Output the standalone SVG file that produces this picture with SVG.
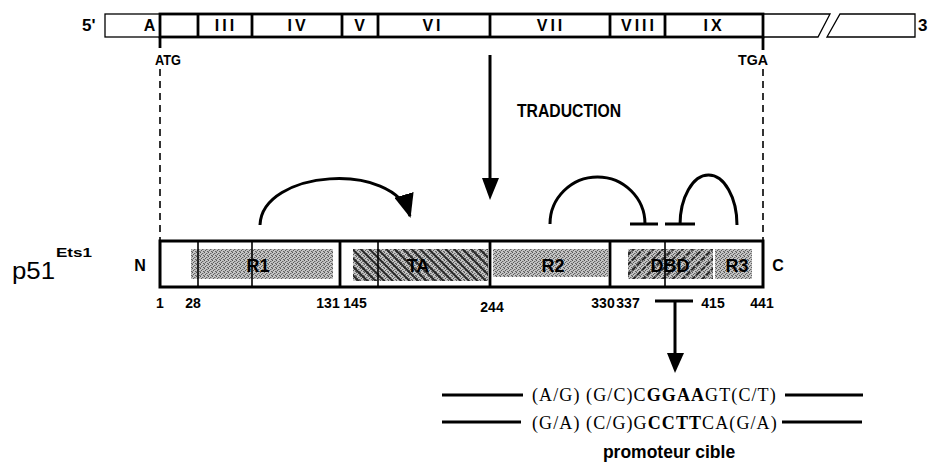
<svg xmlns="http://www.w3.org/2000/svg" width="930" height="467" viewBox="0 0 930 467">
  <style>
    .sans { font-family: "Liberation Sans", Arial, sans-serif; font-weight: bold; fill: #000; }
    .plain { font-weight: normal; }
    .serif { font-family: "Liberation Serif", "Times New Roman", serif; fill: #000; }
    .thin { fill: none; stroke: #000; stroke-width: 1.3; }
    .thick { fill: none; stroke: #000; stroke-width: 2.8; }
    .box { fill: none; stroke: #000; stroke-width: 3; }
    .div-thin { stroke: #000; stroke-width: 1.6; }
    .div-thick { stroke: #000; stroke-width: 2.8; }
    .conn { fill: none; stroke: #000; stroke-width: 3; }
    .bar { stroke: #000; stroke-width: 3; }
    .dash { stroke: #000; stroke-width: 1.6; stroke-dasharray: 7 5; }
    .exon { font-size: 16px; letter-spacing: 3px; text-anchor: middle; }
    .dom { font-size: 18px; text-anchor: middle; }
    .num { font-size: 14px; text-anchor: middle; }
    .seq { font-size: 18px; letter-spacing: 1.1px; }
  </style>
  <defs>
    <!-- grey stipple used for the regulatory domains -->
    <pattern id="stipple" width="4" height="4" patternUnits="userSpaceOnUse">
      <rect width="4" height="4" fill="#c4c4c4"/>
      <rect x="0" y="0" width="1" height="1" fill="#555"/>
      <rect x="2" y="1" width="1" height="1" fill="#666"/>
      <rect x="1" y="2" width="1" height="1" fill="#5a5a5a"/>
      <rect x="3" y="3" width="1" height="1" fill="#606060"/>
      <rect x="3" y="1" width="1" height="1" fill="#9a9a9a"/>
      <rect x="0" y="3" width="1" height="1" fill="#8e8e8e"/>
    </pattern>
    <!-- back-slash hatching (transactivation) -->
    <pattern id="hatchBack" width="6" height="6" patternUnits="userSpaceOnUse" patternTransform="rotate(-45)">
      <line x1="1" y1="0" x2="1" y2="6" stroke="#1a1a1a" stroke-width="1.8"/>
    </pattern>
    <!-- forward-slash hatching (DNA binding) -->
    <pattern id="hatchFwd" width="7" height="7" patternUnits="userSpaceOnUse" patternTransform="rotate(45)">
      <line x1="1" y1="0" x2="1" y2="7" stroke="#1a1a1a" stroke-width="1.8" stroke-dasharray="3.5 1.5"/>
    </pattern>
    <marker id="head" viewBox="0 0 24 20" refX="22" refY="10" markerWidth="24" markerHeight="20" markerUnits="userSpaceOnUse" orient="auto">
      <path d="M0,0 L24,10 L0,20 Z" fill="#000"/>
    </marker>
  </defs>

  <!-- messenger RNA with exons -->
  <g id="mrna">
    <text class="sans" x="82" y="31" font-size="17">5'</text>
    <rect class="thin" x="105" y="14" width="55" height="23"/>
    <rect class="thick" x="160" y="14" width="603" height="23"/>
    <line class="div-thick" x1="198" y1="14" x2="198" y2="37"/>
    <line class="div-thick" x1="252" y1="14" x2="252" y2="37"/>
    <line class="div-thick" x1="342" y1="14" x2="342" y2="37"/>
    <line class="div-thick" x1="378" y1="14" x2="378" y2="37"/>
    <line class="div-thick" x1="490" y1="14" x2="490" y2="37"/>
    <line class="div-thick" x1="610" y1="14" x2="610" y2="37"/>
    <line class="div-thick" x1="665" y1="14" x2="665" y2="37"/>
    <path class="thin" d="M763,14 L830,14 L818,37 L763,37"/>
    <path class="thin" d="M840,14 L915,14 L915,37 L827,37 Z"/>
    <text class="sans" x="918" y="31" font-size="17">3</text>
    <text class="sans exon" x="151" y="31" letter-spacing="0">A</text>
    <text class="sans exon" x="226" y="31">III</text>
    <text class="sans exon" x="298" y="31">IV</text>
    <text class="sans exon" x="361" y="31">V</text>
    <text class="sans exon" x="433" y="31">VI</text>
    <text class="sans exon" x="551" y="31">VII</text>
    <text class="sans exon" x="639" y="31">VIII</text>
    <text class="sans exon" x="714" y="31">IX</text>
    <line class="div-thick" x1="160" y1="37" x2="160" y2="48"/>
    <line class="div-thick" x1="763" y1="37" x2="763" y2="50"/>
    <text class="sans" x="155" y="65" font-size="14" textLength="26" lengthAdjust="spacingAndGlyphs">ATG</text>
    <text class="sans" x="738" y="65" font-size="14" textLength="30" lengthAdjust="spacingAndGlyphs">TGA</text>
    <text class="sans" x="517" y="117" font-size="19" textLength="104" lengthAdjust="spacingAndGlyphs">TRADUCTION</text>
  </g>

  <!-- protein p51 Ets1 -->
  <g id="protein">
    <text class="sans plain" x="12" y="279" font-size="24" textLength="43" lengthAdjust="spacingAndGlyphs">p51</text>
    <text class="sans" x="56" y="257" font-size="13" textLength="36" lengthAdjust="spacingAndGlyphs">Ets1</text>
    <text class="sans" x="140" y="271" font-size="16" text-anchor="middle">N</text>
    <text class="sans" x="778" y="271" font-size="16" text-anchor="middle">C</text>
  </g>

  <g id="domain-R1">
    <rect x="191" y="249" width="142" height="30" fill="url(#stipple)"/>
  </g>
  <g id="domain-TA">
    <rect x="353" y="249" width="135" height="32" fill="url(#stipple)"/>
    <rect x="353" y="249" width="135" height="32" fill="url(#hatchBack)"/>
  </g>
  <g id="domain-R2">
    <rect x="493" y="249" width="115" height="28" fill="url(#stipple)"/>
  </g>
  <g id="domain-DBD">
    <rect x="628" y="249" width="85" height="30" fill="url(#stipple)"/>
    <rect x="628" y="249" width="85" height="30" fill="url(#hatchFwd)"/>
  </g>
  <g id="domain-R3">
    <rect x="715" y="249" width="37" height="30" fill="url(#stipple)"/>
  </g>

  <g id="protein-frame">
    <rect class="box" x="160" y="241" width="603" height="46"/>
    <line class="div-thin" x1="198" y1="241" x2="198" y2="287"/>
    <line class="div-thin" x1="252" y1="241" x2="252" y2="287"/>
    <line class="div-thick" x1="340" y1="241" x2="340" y2="287"/>
    <line class="div-thin" x1="378" y1="241" x2="378" y2="287"/>
    <line class="div-thick" x1="490" y1="241" x2="490" y2="287"/>
    <line class="div-thick" x1="610" y1="241" x2="610" y2="287"/>
    <line class="div-thin" x1="665" y1="241" x2="665" y2="287"/>
    <text class="sans dom" x="258" y="272">R1</text>
    <text class="sans dom" x="418" y="272">TA</text>
    <text class="sans dom" x="553" y="272">R2</text>
    <text class="sans dom" x="670" y="272">DBD</text>
    <text class="sans dom" x="737" y="272">R3</text>
  </g>

  <!-- residue positions -->
  <g id="positions">
    <text class="sans num" x="160" y="308">1</text>
    <text class="sans num" x="193" y="308">28</text>
    <text class="sans num" x="328" y="308">131</text>
    <text class="sans num" x="355" y="308">145</text>
    <text class="sans num" x="492" y="312">244</text>
    <text class="sans num" x="603" y="308">330</text>
    <text class="sans num" x="628" y="308">337</text>
    <text class="sans num" x="713" y="308">415</text>
    <text class="sans num" x="762" y="308">441</text>
  </g>

  <g id="connectors">
    <!-- boundaries of the coding region -->
    <line class="dash" x1="160" y1="69" x2="160" y2="240"/>
    <line class="dash" x1="763" y1="69" x2="763" y2="240"/>
    <!-- translation -->
    <line class="conn" x1="490" y1="55" x2="490" y2="182"/>
    <path d="M482,178 L499,178 L490,200 Z" fill="#000"/>
    <!-- R1 activates TA -->
    <path class="conn" d="M260,225 C262,170 394,160 410,216" marker-end="url(#head)"/>
    <!-- R2 inhibits DBD -->
    <path class="conn" d="M550,224 A47.5,47 0 0 1 645,224"/>
    <line class="bar" x1="630" y1="224" x2="658" y2="224"/>
    <!-- R3 inhibits DBD -->
    <path class="conn" d="M737,225 A28.5,50 0 0 0 680,225"/>
    <line class="bar" x1="665" y1="224" x2="695" y2="224"/>
    <!-- DBD binds target promoter -->
    <line class="bar" x1="655" y1="301" x2="693" y2="301"/>
    <line class="conn" x1="675" y1="301" x2="675" y2="356"/>
    <path d="M667,353 L684,353 L675,373 Z" fill="#000"/>
  </g>

  <!-- target promoter -->
  <g id="promoter">
    <line class="bar" x1="442" y1="395" x2="523" y2="395" stroke-width="2.5"/>
    <line class="bar" x1="785" y1="395" x2="863" y2="395" stroke-width="2.5"/>
    <line class="bar" x1="442" y1="422" x2="521" y2="422" stroke-width="2.5"/>
    <line class="bar" x1="782" y1="422" x2="862" y2="422" stroke-width="2.5"/>
    <text class="serif seq" x="532" y="401">(A/G) (G/C)C<tspan font-weight="bold">GGAA</tspan>GT(C/T)</text>
    <text class="serif seq" x="532" y="429">(G/A) (C/G)G<tspan font-weight="bold">CCTT</tspan>CA(G/A)</text>
    <text class="sans" x="669" y="458" font-size="17.5" text-anchor="middle">promoteur cible</text>
  </g>
</svg>
